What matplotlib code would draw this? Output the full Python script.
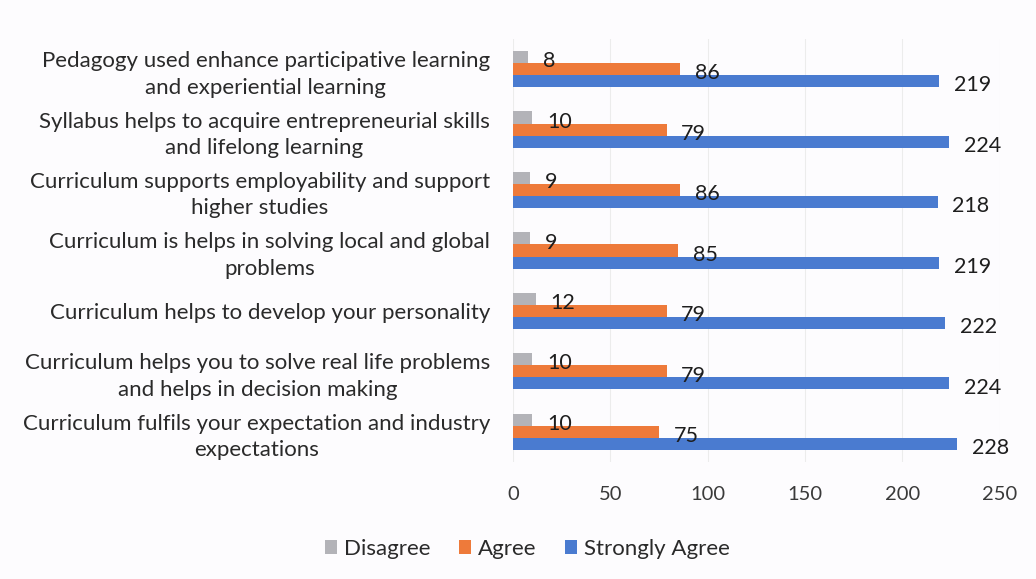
import matplotlib
matplotlib.use("Agg")
import matplotlib.pyplot as plt
import numpy as np

categories = [
    "Pedagogy used enhance participative learning\nand experiential learning",
    "Syllabus helps to acquire entrepreneurial skills\nand lifelong learning",
    "Curriculum supports employability and support\nhigher studies",
    "Curriculum is helps in solving local and global\nproblems",
    "Curriculum helps to develop your personality",
    "Curriculum helps you to solve real life problems\nand helps in decision making",
    "Curriculum fulfils your expectation and industry\nexpectations",
]
disagree = [8, 10, 9, 9, 12, 10, 10]
agree = [86, 79, 86, 85, 79, 79, 75]
strongly_agree = [219, 224, 218, 219, 222, 224, 228]
series_names = ["Disagree", "Agree", "Strongly Agree"]
xticks = [0, 50, 100, 150, 200, 250]

colors = ["#b3b3b8", "#ee7a3a", "#4a7bd0"]
bg = "#fdfcfe"

plt.rcParams['font.family'] = ['Lato', 'DejaVu Sans']

fig = plt.figure(figsize=(10.36, 5.79), dpi=100, facecolor=bg)
ax = fig.add_axes([0.495, 0.2021, 0.4701, 0.7306], facecolor=bg)

y = np.arange(len(categories))
h = 0.2
data = [disagree, agree, strongly_agree]
offsets = [-h, 0, h]
for vals, off, c, name in zip(data, offsets, colors, series_names):
    bars = ax.barh(y + off, vals, height=h, color=c, label=name, zorder=3)
    for b, v in zip(bars, vals):
        ax.annotate(str(v), (b.get_width(), b.get_y() + b.get_height() / 2),
                    xytext=(10.5, -3), textcoords="offset points",
                    ha="left", va="center", fontsize=15.5, color="#1e1e1e", zorder=4)

ax.set_xlim(0, 250)
ax.set_ylim(len(categories) - 0.5, -0.5)
ax.set_xticks(xticks)
ax.set_xticklabels([str(t) for t in xticks], fontsize=14.5, color="#3a3a3a")
ax.set_yticks(y)
ax.set_yticklabels(categories, fontsize=16, color="#2a2a2a", multialignment="center",
                   linespacing=1.4)
ax.tick_params(axis="both", length=0)
ax.tick_params(axis="y", pad=16.5)
ax.tick_params(axis="x", pad=17)
ax.grid(axis="x", color="#ececec", linewidth=0.8, zorder=0)
for s in ax.spines.values():
    s.set_visible(False)

leg = fig.legend(loc="center", bbox_to_anchor=(0.509, 0.052), ncol=3, frameon=False,
                 fontsize=16, handlelength=0.55, handleheight=0.55, handletextpad=0.3,
                 columnspacing=1.3, labelcolor="#2a2a2a")

fig.savefig("out.png", dpi=100, facecolor=bg)
